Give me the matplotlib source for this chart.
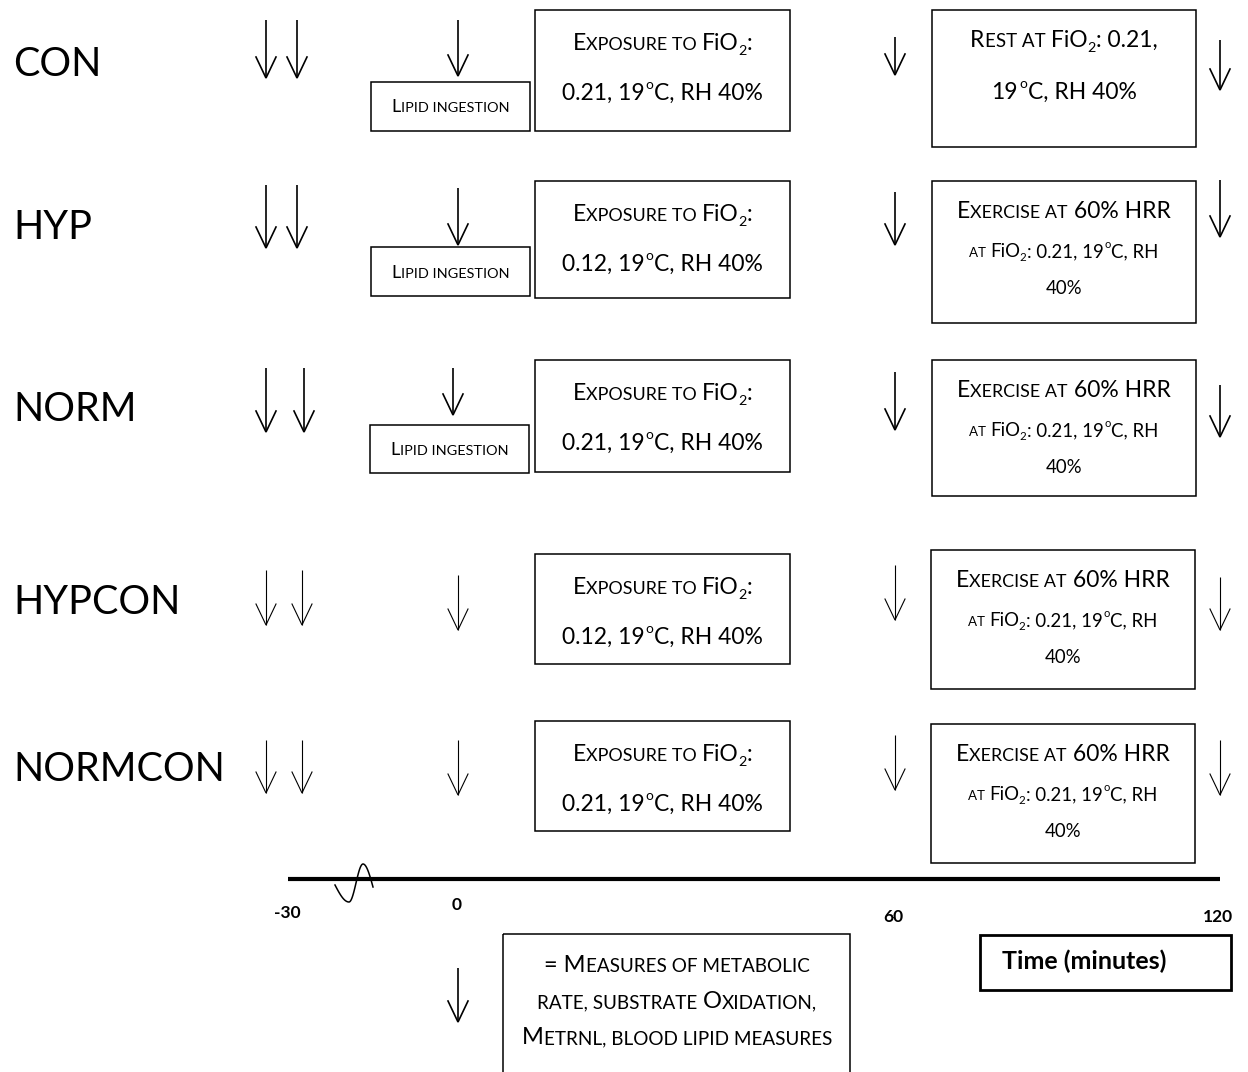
import matplotlib
matplotlib.use("Agg")
import matplotlib.pyplot as plt
from matplotlib.patches import Rectangle
from matplotlib.font_manager import FontProperties
import numpy as np

FONT = "Lato"

# ---------------- data ----------------
groups = ["CON", "HYP", "NORM", "HYPCON", "NORMCON"]
fio2_exposure = ["0.21", "0.12", "0.21", "0.12", "0.21"]
lipid_ingestion = [True, True, True, False, False]
post_phase = ["rest", "exercise", "exercise", "exercise", "exercise"]
time_ticks = ["-30", "0", "60", "120"]
temperature = "19"
humidity = "40%"
exercise_intensity = "60% HRR"

# ---------------- layout (pixels) ----------------
W, H = 1248, 1072
row_label_y = [76, 239, 421, 614, 781]
row_label_x = 13
exp_box = [(535, 10, 255, 121), (535, 181, 255, 117), (535, 360, 255, 112),
           (535, 554, 255, 110), (535, 721, 255, 110)]
lip_box = [(371, 82, 159, 49), (371, 247, 159, 49), (370, 425, 159, 48)]
post_box = [(932, 10, 264, 137), (932, 181, 264, 142), (932, 360, 264, 136),
            (931, 550, 264, 139), (931, 724, 264, 139)]
arrows = [
    [(266, 20, 78), (297, 20, 78), (458, 20, 76), (895, 37, 75), (1220, 40, 90)],
    [(266, 185, 248), (297, 185, 248), (458, 188, 245), (895, 192, 245), (1220, 180, 237)],
    [(266, 368, 432), (304, 368, 432), (453, 368, 415), (895, 372, 430), (1220, 385, 437)],
    [(266, 570, 625), (302, 570, 625), (458, 575, 630), (895, 565, 620), (1220, 577, 630)],
    [(266, 740, 793), (302, 740, 793), (458, 740, 795), (895, 735, 790), (1220, 740, 795)],
]
arrow_lw = [1.2, 1.2, 1.2, 0.8, 0.8]
tick_pos = [(287, 918), (457, 910), (893, 922), (1218, 922)]

fig = plt.figure(figsize=(W / 100, H / 100), dpi=100)
ax = fig.add_axes([0, 0, 1, 1])
ax.set_xlim(0, W)
ax.set_ylim(H, 0)
ax.axis("off")
renderer = fig.canvas.get_renderer()


def parse(markup):
    segs = []
    mode = "N"
    i = 0
    while i < len(markup):
        c = markup[i]
        if c == "[":
            mode = "S"
        elif c == "]":
            mode = "N"
        elif c in "_^":
            segs.append((markup[i + 1], "sub" if c == "_" else "sup"))
            i += 1
        else:
            if segs and segs[-1][1] == mode:
                segs[-1] = (segs[-1][0] + c, mode)
            else:
                segs.append((c, mode))
        i += 1
    return segs


def text_w(s, size, weight):
    fp = FontProperties(family=FONT, size=size, weight=weight)
    w1, _, _ = renderer.get_text_width_height_descent("|" + s + "|", fp, ismath=False)
    w0, _, _ = renderer.get_text_width_height_descent("||", fp, ismath=False)
    return w1 - w0


def rich(x, y, markup, size, ha="center", small=0.78, weight="normal"):
    segs = parse(markup)
    items = []
    for s, kind in segs:
        if kind == "N":
            items.append((s, size, 0, 0))
        elif kind == "S":
            items.append((s.upper(), size * small, 0, 0))
        elif kind == "sub":
            items.append((s, size * 0.62, size * 1.389 * 0.22, 0))
        else:
            items.append((s, size * 0.6, -size * 1.389 * 0.5, size * 0.12))
    widths = [text_w(s, sz, weight) + pad for s, sz, _, pad in items]
    total = sum(widths)
    x0 = x - total / 2 if ha == "center" else x
    for (s, sz, dy, pad), w in zip(items, widths):
        ax.text(x0 + pad / 2, y + dy, s, fontsize=sz, family=FONT, weight=weight,
                ha="left", va="baseline", color="black")
        x0 += w


def arrow(x, y0, y1, lw):
    hw, hl = 10, 21
    ax.plot([x, x], [y0, y1], color="black", lw=lw, solid_capstyle="butt")
    ax.plot([x - hw, x, x + hw], [y1 - hl, y1, y1 - hl], color="black", lw=lw,
            solid_joinstyle="miter")


def box(b, lw=1.1):
    x, y, w, h = b
    ax.add_patch(Rectangle((x, y), w, h, fill=False, ec="black", lw=lw))


for i, g in enumerate(groups):
    ax.text(row_label_x, row_label_y[i], g, fontsize=28.5, family=FONT,
            ha="left", va="baseline")
    for (x, y0, y1) in arrows[i]:
        arrow(x, y0, y1, arrow_lw[i])
    # exposure box
    b = exp_box[i]
    box(b)
    cx = b[0] + b[2] / 2
    rich(cx, b[1] + 40, "E[xposure to ]FiO_2:", 16.5)
    rich(cx, b[1] + 90, f"{fio2_exposure[i]}, {temperature}^oC, RH {humidity}", 16.5)
    # lipid
    if lipid_ingestion[i]:
        lb = lip_box[i]
        box(lb)
        rich(lb[0] + lb[2] / 2, lb[1] + lb[3] / 2 + 6, "L[ipid ingestion]", 13, small=0.8)
    # post phase
    pb = post_box[i]
    box(pb)
    pcx = pb[0] + pb[2] / 2
    if post_phase[i] == "rest":
        rich(pcx, pb[1] + 37, "R[est at] FiO_2: 0.21,", 16.5, small=0.82)
        rich(pcx, pb[1] + 89, f"{temperature}^oC, RH {humidity}", 16.5)
    else:
        rich(pcx, pb[1] + 37, f"E[xercise at] {exercise_intensity}", 16.5)
        rich(pcx, pb[1] + 76, f"[at ]FiO_2: 0.21, {temperature}^oC, RH", 13.4, small=0.72)
        rich(pcx, pb[1] + 113, humidity, 13.4)

# timeline
ax.plot([288, 1220], [879, 879], color="black", lw=3.0, solid_capstyle="butt")
t = np.linspace(0, 1, 30)
sx = np.concatenate([335 + 14 * t, 349 + 14 * t, 363 + 10 * t])
sy = np.concatenate([885 + 17 * np.sin(np.pi / 2 * t),
                     883 + 19 * np.cos(np.pi * t),
                     864 + 23 * (1 - np.cos(np.pi / 2 * t))])
ax.plot(sx, sy, color="black", lw=1.1)
for lab, (x, y) in zip(time_ticks, tick_pos):
    ax.text(x, y, lab, fontsize=12.5, family=FONT, weight="bold", ha="center", va="baseline")

# time box
box((980, 935, 251, 55), lw=2.0)
ax.text(1002, 969, "Time (minutes)", fontsize=18, family=FONT, weight="bold",
        ha="left", va="baseline")

# legend
box((503, 934, 347, 150))
arrow(458, 968, 1022, 1.2)
rich(677, 972, "= M[easures of metabolic]", 17, small=0.8)
rich(677, 1008, "[rate, substrate ]O[xidation,]", 17, small=0.8)
rich(677, 1044, "M[etrnl, blood lipid measures]", 17, small=0.8)

fig.savefig("out.png", dpi=100)
